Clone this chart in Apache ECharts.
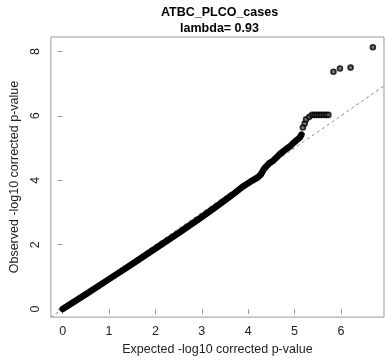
<!DOCTYPE html>
<html>
<head>
<meta charset="utf-8">
<script src="https://cdn.jsdelivr.net/npm/echarts@6/dist/echarts.min.js"></script>
<style>
html,body{margin:0;padding:0;background:#fff;}
#chart{width:385px;height:361px;}
</style>
</head>
<body>
<div id="chart"></div>
<script>
// Dense part of the QQ curve (overlapping points form a thick band)
const expectedBand = [0, 0.5, 1.0, 1.5, 2.0, 2.5, 3.0, 3.3, 3.67, 3.88, 4.09, 4.2, 4.27, 4.34, 4.45, 4.55, 4.69, 4.8, 4.9, 4.97, 5.05, 5.11, 5.15];
const observedBand = [0, 0.46, 0.93, 1.40, 1.88, 2.36, 2.86, 3.17, 3.56, 3.80, 3.99, 4.08, 4.17, 4.35, 4.52, 4.62, 4.82, 4.95, 5.05, 5.15, 5.25, 5.32, 5.42];
// Sparse tail: individual points
const expectedTail = [5.18, 5.22, 5.25, 5.32, 5.38, 5.43, 5.48, 5.53, 5.58, 5.63, 5.68, 5.73, 5.84, 5.98, 6.21, 6.69];
const observedTail = [5.64, 5.76, 5.89, 5.97, 6.03, 6.03, 6.03, 6.03, 6.03, 6.03, 6.03, 6.03, 7.37, 7.47, 7.50, 8.13];
// Reference line y = x
const refLine = [-1, 9];
const xTicks = [0, 1, 2, 3, 4, 5, 6];
const yTicks = [0, 2, 4, 6, 8];
const titleText = 'ATBC_PLCO_cases';
const subtitleText = 'lambda= 0.93';
const xName = 'Expected -log10 corrected p-value';
const yName = 'Observed -log10 corrected p-value';

const FONT = '"Liberation Sans", Arial, sans-serif';
const chart = echarts.init(document.getElementById('chart'), null, {renderer: 'canvas'});

const bandData = expectedBand.map((x, i) => [x, observedBand[i]]);
const tailData = expectedTail.map((x, i) => [x, observedTail[i]]);
const refData = refLine.map(v => [v, v]);

chart.setOption({
  animation: false,
  backgroundColor: '#ffffff',
  title: [
    {text: titleText, left: 214.5, top: 1, textAlign: 'center',
     textStyle: {fontFamily: FONT, fontSize: 12.5, fontWeight: 'bold', color: '#000'}},
    {text: subtitleText, left: 214.5, top: 17, textAlign: 'center',
     textStyle: {fontFamily: FONT, fontSize: 12.5, fontWeight: 'bold', color: '#000'}}
  ],
  grid: {left: 45, top: 37, right: 1, bottom: 37, show: true, borderColor: '#999', borderWidth: 1, backgroundColor: 'transparent'},
  xAxis: {
    type: 'value', min: -0.254, max: 6.93,
    name: xName, nameLocation: 'middle', nameGap: 23,
    nameTextStyle: {fontFamily: FONT, fontSize: 12.5, color: '#222'},
    axisLine: {show: false},
    splitLine: {show: false},
    axisTick: {show: true, inside: false, length: 5, lineStyle: {color: '#999'}, customValues: xTicks},
    axisLabel: {fontFamily: FONT, fontSize: 12.5, color: '#222', margin: 8, customValues: xTicks, formatter: v => String(v)}
  },
  yAxis: {
    type: 'value', min: -0.25, max: 8.45,
    name: yName, nameLocation: 'middle', nameGap: 26, nameRotate: 90,
    nameTextStyle: {fontFamily: FONT, fontSize: 12.5, color: '#222'},
    axisLine: {show: false},
    splitLine: {show: false},
    axisTick: {show: true, inside: false, length: 5, lineStyle: {color: '#999'}, customValues: yTicks},
    axisLabel: {fontFamily: FONT, fontSize: 12.5, color: '#222', margin: 9, rotate: 90, customValues: yTicks, formatter: v => String(v)}
  },
  series: [
    {type: 'line', data: refData, symbol: 'none', clip: true, z: 1,
     lineStyle: {color: '#888', width: 1, type: [3, 3]}},
    {type: 'line', data: bandData, symbol: 'none', showSymbol: false, clip: true, z: 2,
     lineStyle: {color: '#000', width: 6.5, cap: 'round', join: 'round'}},
    {type: 'scatter', data: tailData, symbol: 'circle', symbolSize: 5, z: 3,
     itemStyle: {color: '#555', borderColor: '#000', borderWidth: 1.6}}
  ]
});
</script>
</body>
</html>
